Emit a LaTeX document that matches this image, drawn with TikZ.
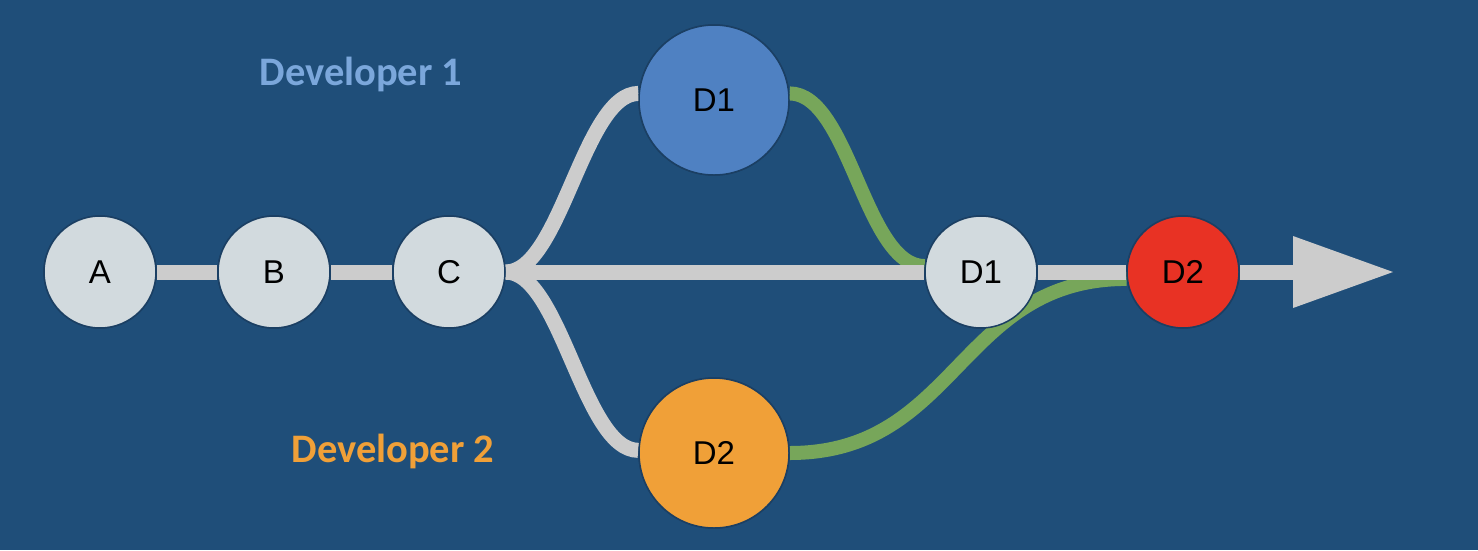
\documentclass[tikz,border=0pt]{standalone}
\usepackage{fontspec}
\usetikzlibrary{calc}
\setmainfont{Liberation Sans}
\newfontfamily\devfont{Carlito}
\definecolor{bg}{HTML}{1F4E79}
\definecolor{nodegray}{HTML}{D2DADE}
\definecolor{linegray}{HTML}{CCCCCC}
\definecolor{nblue}{HTML}{4F81C2}
\definecolor{norange}{HTML}{F0A038}
\definecolor{nred}{HTML}{E83224}
\definecolor{ngreen}{HTML}{77A65A}
\definecolor{devblue}{HTML}{7BA7DB}
\definecolor{nborder}{HTML}{1B3F63}
\begin{document}
\begin{tikzpicture}[x=1pt,y=-1pt,
  commit/.style={circle,draw=nborder,line width=1.5pt,inner sep=0pt,minimum size=112pt,fill=nodegray,
    font=\fontsize{33}{38}\selectfont},
  bigcommit/.style={commit,minimum size=150pt},
  gline/.style={draw=linegray,line width=15pt},
  mline/.style={draw=ngreen,line width=14pt},
  devlabel/.style={anchor=base,font=\devfont\bfseries\fontsize{40.5}{46}\selectfont}]
\fill[bg] (0,0) rectangle (1478,550);
\useasboundingbox (0,0) rectangle (1478,550);
% node positions
\path (100,272) node[commit] (A) {}
      (274,272) node[commit] (B) {}
      (449,272) node[commit] (C) {}
      (714,100) node[bigcommit] (d1t) {}
      (714,453) node[bigcommit] (d2b) {}
      (981,272) node[commit] (m) {}
      (1183,272) node[commit] (r) {};
\coordinate (ab) at (1293,272);
\coordinate (tip) at (1393,272);
% merge curves (green)
\draw[mline] (d1t.5) .. controls +(60,0) and +(-60,0) .. (m.174);
\draw[mline] (d2b.east) .. controls +(168,0) and +(-168,0) .. (r.187);
% gray history lines
\draw[gline] (A.east) -- (B.west);
\draw[gline] (B.east) -- (C.west);
\draw[gline] (C.east) -- (m.west);
\draw[gline] (C.east) .. controls +(55,0) and +(-55,0) .. (d1t.175);
\draw[gline] (C.east) .. controls +(55,0) and +(-55,0) .. (d2b.178);
\draw[gline] (m.east) -- (r.west);
\draw[gline] (r.east) -- (ab);
\fill[linegray] ($(ab)+(0,-36)$) -- (tip) -- ($(ab)+(0,36)$) -- cycle;
% nodes on top
\node[commit] at (A) {A};
\node[commit] at (B) {B};
\node[commit] at (C) {C};
\node[bigcommit,fill=nblue] at (d1t) {D1};
\node[bigcommit,fill=norange] at (d2b) {D2};
\node[commit] at (m) {D1};
\node[commit,fill=nred] at (r) {D2};
% labels
\node[devlabel,text=devblue] (dev1) at (361,85) {Developer 1};
\node[devlabel,text=norange] (dev2) at (393,462) {Developer 2};
\end{tikzpicture}
\end{document}
